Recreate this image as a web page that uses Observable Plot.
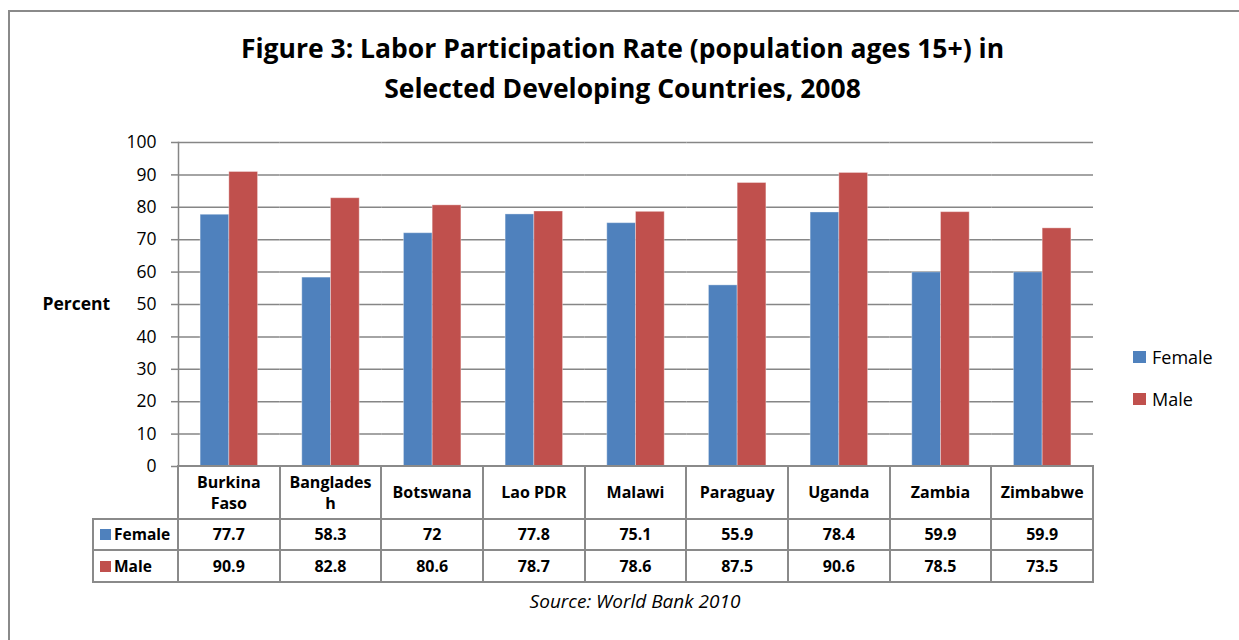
<!DOCTYPE html>
<html>
<head>
<meta charset="utf-8">
<script src="https://cdn.jsdelivr.net/npm/d3@7"></script>
<script src="https://cdn.jsdelivr.net/npm/@observablehq/plot@0.6"></script>
<style>
  html, body { margin: 0; padding: 0; background: #fff; }
  #card { position: relative; width: 1239px; height: 640px; overflow: hidden; background: #fff;
          font-family: "Open Sans", Lato, sans-serif; color: #000; }
  #border { position: absolute; left: 8px; top: 10px; width: 1260px; height: 660px;
            border: 2px solid #8a8a8a; box-sizing: border-box; }
  #title { position: absolute; left: 0; top: 28px; width: 1245px; text-align: center;
           font-weight: 700; font-size: 26.5px; line-height: 40px; }
  #chart { position: absolute; left: 0; top: 0; }
  .cell { position: absolute; box-sizing: border-box; border: 2px solid #8a8a8a;
          display: flex; align-items: center; justify-content: center; text-align: center;
          font-weight: 700; font-size: 16px; line-height: 21px; white-space: pre-line; background: #fff; }
  .cell.key { justify-content: flex-start; padding-left: 6px; font-size: 15.5px; }
  .swatch { display: inline-block; width: 11px; height: 11px; margin-right: 3px; }
  #legend { position: absolute; left: 1133px; top: 336px; font-size: 18px; }
  #legend .item { display: flex; align-items: center; height: 42px; }
  #legend .swatch { width: 13px; height: 12px; margin-right: 6px; }
  #source { position: absolute; left: 0; width: 1270px; top: 588px; text-align: center;
            font-style: italic; font-size: 19px; }
</style>
</head>
<body>
<div id="card">
  <div id="border"></div>
  <div id="title">Figure 3: Labor Participation Rate (population ages 15+) in<br>Selected Developing Countries, 2008</div>
  <div id="chart"></div>
  <div id="table"></div>
  <div id="legend"></div>
  <div id="source">Source: World Bank 2010</div>
</div>
<script>
// Labor force participation, ages 15+, 2008 (%)
const countries = ["Burkina Faso", "Bangladesh", "Botswana", "Lao PDR", "Malawi", "Paraguay", "Uganda", "Zambia", "Zimbabwe"];
const headerLabels = ["Burkina\nFaso", "Banglades\nh", "Botswana", "Lao PDR", "Malawi", "Paraguay", "Uganda", "Zambia", "Zimbabwe"];
const female = [77.7, 58.3, 72, 77.8, 75.1, 55.9, 78.4, 59.9, 59.9];
const male = [90.9, 82.8, 80.6, 78.7, 78.6, 87.5, 90.6, 78.5, 73.5];
const series = ["Female", "Male"];
const seriesColors = ["#4F81BD", "#C0504D"];
const yTicks = [0, 10, 20, 30, 40, 50, 60, 70, 80, 90, 100];

const valuesBySeries = {Female: female, Male: male};
const rows = countries.flatMap((c, i) => series.map((s) => ({country: c, sex: s, value: valuesBySeries[s][i]})));

const grey = "#868686";

const plot = Plot.plot({
  width: 1239,
  height: 490,
  marginTop: 142,
  marginBottom: 24,
  marginLeft: 178,
  marginRight: 146,
  style: {fontFamily: "'Open Sans', Lato, sans-serif", fontSize: "17px", background: "transparent", color: "#000", overflow: "visible"},
  fx: {domain: countries, padding: 0, round: false, axis: null},
  x: {domain: series, paddingInner: 0, paddingOuter: 0.77, round: false, axis: null},
  y: {domain: [0, 100], axis: null},
  color: {domain: series, range: seriesColors},
  marks: [
    Plot.gridY(yTicks, {stroke: grey, strokeOpacity: 1, strokeWidth: 1.5}),
    Plot.axisY(yTicks, {label: null, tickSize: 7, tickPadding: 15, stroke: grey, strokeWidth: 1.5, fill: "#000", fontSize: 17.5}),
    Plot.frame({anchor: "left", facetAnchor: "left", stroke: grey, strokeWidth: 1.5}),
    Plot.barY(rows, {fx: "country", x: "sex", y: "value", fill: "sex", stroke: "#fff", strokeOpacity: 0.35, strokeWidth: 1}),
    Plot.text(["Percent"], {frameAnchor: "left", facetAnchor: "left", dx: -136, textAnchor: "start", fontWeight: "bold", fontSize: 17.5})
  ]
});
document.getElementById("chart").appendChild(plot);

// Data table under the plot, columns aligned on the fx band scale
const fx = plot.scale("fx");
const step = fx.step;
const x0 = fx.range[0];
const keyWidth = 85;
const rowTops = [466, 519, 550, 582];
const table = document.getElementById("table");
function cell(left, top, width, height, html, cls) {
  const d = document.createElement("div");
  d.className = "cell" + (cls ? " " + cls : "");
  d.style.left = (left - 1) + "px";
  d.style.top = (top - 1) + "px";
  d.style.width = (width + 2) + "px";
  d.style.height = (height + 2) + "px";
  d.innerHTML = html;
  table.appendChild(d);
}
countries.forEach((c, i) => {
  cell(x0 + i * step, rowTops[0], step, rowTops[1] - rowTops[0], headerLabels[i]);
});
series.forEach((s, j) => {
  const top = rowTops[j + 1], h = rowTops[j + 2] - top;
  cell(x0 - keyWidth, top, keyWidth, h, `<span class="swatch" style="background:${seriesColors[j]}"></span>${s}`, "key");
  valuesBySeries[s].forEach((v, i) => cell(x0 + i * step, top, step, h, String(v)));
});

// Legend
const legend = document.getElementById("legend");
series.forEach((s, j) => {
  const it = document.createElement("div");
  it.className = "item";
  it.innerHTML = `<span class="swatch" style="background:${seriesColors[j]}"></span>${s}`;
  legend.appendChild(it);
});
</script>
</body>
</html>
